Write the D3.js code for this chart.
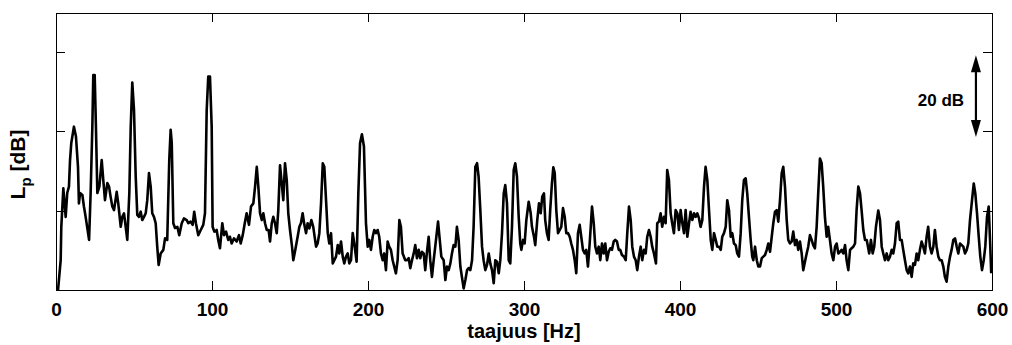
<!DOCTYPE html>
<html>
<head>
<meta charset="utf-8">
<script src="https://cdn.jsdelivr.net/npm/d3@7"></script>
<style>
  body { margin: 0; background: #fff; }
  svg { display: block; font-family: Arial, "Liberation Sans", sans-serif; }
</style>
</head>
<body>
<svg id="chart"></svg>
<script>
// spectrum: frequency [Hz] and level [dB, relative]
const freq = [
  1.3,3.0,3.4,4.7,6.2,7.2,8.3,9.0,9.8,11.5,
  12.8,14.1,14.7,15.4,16.9,17.9,19.0,21.2,22.2,23.3,
  23.9,24.8,25.6,26.5,27.8,29.3,30.3,31.4,32.9,34.0,
  35.0,36.1,37.2,38.9,39.9,41.5,42.5,43.6,44.4,45.7,
  47.0,47.9,48.9,50.0,51.1,52.1,53.2,54.3,55.3,56.4,
  57.5,58.5,59.6,60.7,61.7,62.8,63.9,64.9,65.8,67.1,
  68.8,69.9,71.3,72.6,73.5,74.2,75.2,76.3,77.8,79.0,
  80.6,82.0,83.8,84.8,86.3,87.6,88.6,89.7,91.2,92.8,
  94.4,95.5,96.6,97.6,98.7,99.8,100.4,101.5,103.0,104.0,
  105.1,106.6,107.7,109.0,110.4,111.5,112.6,114.1,115.8,117.3,
  118.4,119.7,121.0,122.2,123.7,125.0,126.5,127.6,128.7,129.7,
  130.8,131.9,132.9,134.0,135.1,136.3,137.2,138.3,139.3,140.4,
  141.5,142.5,143.6,144.7,145.7,146.8,147.9,148.9,150.0,151.3,
  152.1,153.4,154.9,156.0,157.0,158.1,159.2,160.3,161.3,162.4,
  163.7,164.9,166.7,167.7,168.8,169.9,171.0,172.0,173.1,174.2,
  175.2,176.3,177.4,178.4,179.5,180.6,181.6,182.7,183.8,184.8,
  185.9,187.0,188.0,189.1,190.2,191.2,192.7,193.8,194.9,196.1,
  197.4,198.7,199.8,200.8,201.9,203.0,204.0,205.1,206.2,207.2,
  208.3,209.4,210.4,211.5,212.6,213.6,214.7,215.8,216.8,217.9,
  219.0,220.1,221.1,222.2,223.9,225.0,226.1,227.1,228.2,229.3,
  230.3,231.4,232.5,233.5,234.6,235.7,236.7,237.8,238.9,239.9,
  241.0,242.1,243.1,244.9,246.0,247.0,248.5,249.6,250.6,251.7,
  252.8,253.8,254.9,256.0,257.0,258.1,259.2,260.2,261.3,262.4,
  263.5,264.5,265.6,266.7,267.7,268.8,269.9,270.9,272.0,273.1,
  274.1,275.2,276.3,277.4,278.4,279.5,280.6,281.6,282.7,283.8,
  284.8,285.9,287.0,288.0,289.1,290.2,291.2,292.3,293.4,294.4,
  295.5,296.6,297.6,298.3,299.4,300.4,301.5,303.0,304.3,305.1,
  306.4,307.2,308.5,309.6,310.7,311.7,312.8,313.6,314.7,315.8,
  316.8,317.9,318.8,319.7,320.7,321.8,322.9,323.9,325.0,326.1,
  327.1,328.2,329.3,330.3,331.4,332.5,333.5,334.6,335.7,336.7,
  337.8,338.9,339.9,341.0,342.1,343.6,344.7,345.7,346.8,347.9,
  348.9,350.0,351.1,352.1,353.2,354.3,355.3,356.4,357.5,358.5,
  359.6,360.7,361.7,362.8,364.1,365.2,366.2,367.3,368.4,369.4,
  370.5,371.6,372.6,373.7,374.8,375.8,376.9,378.0,379.0,380.1,
  381.2,382.2,383.3,384.6,385.4,386.5,387.6,388.6,389.7,390.8,
  391.8,392.9,394.0,395.0,396.1,397.2,398.3,399.3,400.4,401.5,
  402.6,403.6,404.7,405.8,406.8,407.9,409.0,410.0,411.1,412.2,
  413.2,414.3,415.4,416.4,417.5,418.6,419.7,420.7,421.8,422.9,
  423.9,425.0,426.1,427.1,428.2,429.3,430.3,431.4,432.5,433.5,
  434.6,435.7,436.7,437.8,438.9,439.9,441.0,442.1,443.1,444.2,
  445.3,446.3,447.0,448.1,449.2,450.2,451.3,452.4,453.4,454.5,
  455.6,456.6,457.7,458.8,459.8,460.9,462.0,463.0,464.1,465.2,
  466.2,467.3,468.4,469.4,470.5,471.6,472.6,473.7,474.8,475.8,
  476.9,478.0,479.0,480.1,481.2,482.2,483.3,484.4,485.4,486.5,
  487.6,488.6,489.7,490.8,491.8,492.9,494.0,495.0,496.1,497.2,
  498.3,499.4,500.4,501.5,502.6,503.6,504.7,505.8,506.8,507.9,
  509.0,510.0,511.1,512.2,513.2,514.3,515.4,516.4,517.5,518.6,
  519.7,521.3,522.4,523.5,524.5,525.6,527.1,528.2,529.3,530.3,
  531.4,532.5,533.5,534.6,535.7,536.7,537.8,538.9,539.9,541.0,
  542.1,543.1,544.2,545.3,546.3,547.4,548.5,549.5,550.6,551.7,
  552.7,553.8,554.9,555.9,557.0,558.1,559.1,560.2,561.3,562.4,
  563.4,564.5,565.6,566.6,567.7,568.8,569.8,570.9,572.0,573.1,
  574.1,575.2,576.3,577.4,578.4,579.5,580.6,581.6,582.7,583.8,
  584.8,585.9,587.2,588.3,589.3,590.4,591.5,592.5,593.6,594.7,
  595.7,596.8,597.9,598.9,599.5
];
const level = [
  0,7.5,15.9,25.6,18.4,24.4,26.0,32.7,37.0,41.1,
  38.6,31.0,21.8,24.4,23.9,21.0,18.4,12.6,24.4,41.1,
  54.1,54.1,41.1,24.4,26.0,32.7,27.7,22.6,26.9,26.0,
  23.5,21.0,20.1,24.7,21.8,15.9,18.4,19.3,16.8,12.6,
  24.4,41.1,52.2,45.3,28.5,18.9,18.4,19.7,17.6,18.4,
  19.3,22.6,29.4,26.0,19.3,18.4,16.8,10.9,6.3,9.2,
  10.1,13.0,12.6,32.7,40.3,37.0,16.8,15.6,15.9,13.8,
  16.8,18.0,17.6,16.8,17.2,16.4,19.7,16.8,13.8,15.1,
  16.4,19.3,45.3,53.7,53.7,41.1,15.9,14.7,15.1,12.6,
  10.5,16.8,13.8,14.7,12.6,13.4,11.7,13.0,12.2,13.8,
  11.7,13.8,16.8,19.3,16.4,21.0,21.8,26.0,31.0,26.0,
  19.3,17.6,19.3,16.8,15.1,15.1,12.2,16.8,18.4,16.8,
  14.3,20.1,31.4,26.8,22.6,31.9,27.7,19.3,15.1,10.9,
  7.5,10.1,13.4,15.9,16.8,19.3,16.4,14.3,16.8,15.5,
  17.6,15.9,10.9,11.7,14.3,21.8,31.9,31.0,22.6,14.3,
  11.7,14.3,6.7,7.5,8.4,11.3,9.2,12.2,8.4,6.7,
  8.4,9.2,6.7,7.5,14.3,11.7,7.1,24.3,36.9,39.2,
  36.1,16.8,10.9,12.6,10.1,13.4,15.1,14.3,15.1,13.4,
  9.2,7.5,9.2,5.0,12.2,10.9,10.1,7.5,5.9,4.2,
  7.5,17.6,15.9,9.2,7.5,7.5,8.0,5.5,7.5,9.2,
  11.3,8.0,10.1,8.0,9.6,9.2,5.0,9.6,13.4,7.5,
  3.3,7.5,10.9,17.2,12.6,8.4,7.5,2.5,5.9,5.0,
  6.7,9.2,11.3,10.9,15.9,12.6,5.9,3.3,0.4,2.5,
  5.0,5.5,5.0,7.5,15.9,31.0,31.9,28.5,20.1,10.9,
  7.5,5.0,6.3,9.2,6.7,5.0,1.7,7.5,7.1,4.2,
  7.5,14.3,24.3,26.4,21.8,7.5,6.7,15.9,30.2,31.9,
  28.5,18.4,11.7,10.1,12.6,11.7,17.6,22.2,19.3,15.9,
  13.4,11.3,17.6,21.8,19.3,23.5,24.3,17.6,14.3,12.6,
  20.1,26.8,30.9,29.4,20.1,14.3,15.1,15.9,20.6,18.4,
  14.3,14.3,13.4,11.7,10.1,7.5,4.2,14.3,16.4,13.4,
  10.1,9.2,10.1,5.9,11.7,21.0,16.8,10.9,9.2,10.9,
  7.5,11.7,9.2,11.7,7.5,9.6,10.5,10.1,12.2,12.6,
  12.2,10.1,10.1,8.8,8.4,7.5,14.3,21.0,17.6,10.9,
  8.4,7.5,5.0,8.4,10.9,7.5,10.1,9.2,13.4,15.1,
  13.4,10.9,9.2,6.7,16.8,17.2,19.3,15.9,18.4,16.8,
  30.2,27.7,19.3,16.8,14.3,20.1,19.3,15.1,20.1,16.8,
  14.3,20.1,13.4,16.8,19.7,17.6,19.3,18.4,19.3,18.0,
  15.9,17.6,26.0,31.0,27.7,20.1,12.6,10.1,14.3,12.6,
  10.9,10.9,10.1,13.4,14.3,15.9,22.6,20.1,13.4,14.3,
  11.7,11.3,9.2,8.4,14.3,22.6,27.7,28.1,24.3,18.4,
  12.6,8.4,7.5,10.9,7.5,5.9,5.9,8.0,8.4,8.8,
  10.1,11.7,9.6,13.4,16.8,19.7,20.1,17.2,22.6,29.4,
  31.0,26.0,17.6,12.6,11.7,12.2,14.7,11.3,12.6,10.1,
  12.2,9.2,5.0,7.1,9.2,10.9,13.8,12.6,11.3,10.5,
  15.9,24.3,33.1,31.9,26.0,18.4,13.4,15.9,12.6,9.2,
  7.5,10.9,11.7,9.2,9.6,10.1,9.2,11.3,7.5,5.0,
  10.1,10.5,10.9,11.7,20.1,26.0,24.3,20.1,15.1,12.6,
  12.6,9.2,12.6,9.2,10.9,15.9,20.0,17.6,10.9,9.2,
  7.5,9.2,7.5,8.4,10.1,9.2,11.7,16.8,17.2,12.6,
  12.6,10.1,7.5,5.0,4.2,5.9,3.3,6.7,6.3,9.2,
  7.5,10.1,12.2,10.9,9.2,13.4,15.9,10.9,9.2,10.9,
  15.1,10.9,8.4,7.5,7.5,5.9,3.3,2.1,5.9,8.4,
  10.1,12.6,13.0,10.9,9.2,11.7,11.3,10.9,9.2,10.1,
  11.7,17.6,22.6,26.8,24.3,19.3,13.4,8.4,5.0,7.5,
  10.9,18.4,21.0,10.9,4.2
];

const xTicks = [0, 100, 200, 300, 400, 500, 600];
const yTicks = [20, 40, 60];       // unlabelled, 20 dB apart
const scaleBar = { f: 589.7, from: 38.5, to: 59.1, label: '20 dB' };

const width = 1012;
const height = 345;
const margin = { top: 13, right: 20, bottom: 55, left: 56 };

const svg = d3.select('#chart')
  .attr('width', width)
  .attr('height', height);

svg.append('rect')
  .attr('width', width)
  .attr('height', height)
  .attr('fill', '#fff');

const x = d3.scaleLinear()
  .domain([0, 600])
  .range([margin.left, width - margin.right]);

const y = d3.scaleLinear()
  .domain([0, 69.7])
  .range([height - margin.bottom, margin.top]);

svg.append('clipPath')
  .attr('id', 'plot-clip')
  .append('rect')
  .attr('x', x(0))
  .attr('y', y(69.7))
  .attr('width', x(600) - x(0))
  .attr('height', y(0) - y(69.7));

// axes: ticks point inwards, like matlab
const tickLen = 9;

const bottomAxis = svg.append('g')
  .attr('transform', `translate(0,${y(0)})`)
  .call(d3.axisBottom(x).tickValues(xTicks).tickSize(-tickLen).tickPadding(13));

svg.append('g')
  .attr('transform', `translate(0,${y(69.7)})`)
  .call(d3.axisTop(x).tickValues(xTicks).tickSize(-tickLen).tickFormat(''));

svg.append('g')
  .attr('transform', `translate(${x(0)},0)`)
  .call(d3.axisLeft(y).tickValues(yTicks).tickSize(-tickLen).tickFormat(''));

svg.append('g')
  .attr('transform', `translate(${x(600)},0)`)
  .call(d3.axisRight(y).tickValues(yTicks).tickSize(-tickLen).tickFormat(''));

svg.selectAll('.domain').remove();
svg.selectAll('.tick line')
  .attr('stroke', '#000')
  .attr('shape-rendering', 'crispEdges');

bottomAxis.selectAll('text')
  .attr('font-size', '19px')
  .attr('font-weight', 'bold')
  .attr('fill', '#000');

// the line
const line = d3.line()
  .x((d, i) => x(freq[i]))
  .y(d => y(d));

svg.append('path')
  .datum(level)
  .attr('clip-path', 'url(#plot-clip)')
  .attr('fill', 'none')
  .attr('stroke', '#000')
  .attr('stroke-width', 2.6)
  .attr('stroke-linejoin', 'round')
  .attr('d', line);

// box
svg.append('rect')
  .attr('x', x(0))
  .attr('y', y(69.7))
  .attr('width', x(600) - x(0))
  .attr('height', y(0) - y(69.7))
  .attr('fill', 'none')
  .attr('stroke', '#000')
  .attr('stroke-width', 1)
  .attr('shape-rendering', 'crispEdges');

// 20 dB scale arrow
const headLen = 17;
const headHalf = 5;
const ax = x(scaleBar.f);
const yTop = y(scaleBar.to);
const yBot = y(scaleBar.from);

svg.append('line')
  .attr('x1', ax).attr('x2', ax)
  .attr('y1', yTop + headLen - 2).attr('y2', yBot - headLen + 2)
  .attr('stroke', '#000')
  .attr('stroke-width', 2.2);

svg.append('path')
  .attr('d', `M${ax},${yTop} L${ax - headHalf},${yTop + headLen} L${ax + headHalf},${yTop + headLen} Z`)
  .attr('fill', '#000');

svg.append('path')
  .attr('d', `M${ax},${yBot} L${ax - headHalf},${yBot - headLen} L${ax + headHalf},${yBot - headLen} Z`)
  .attr('fill', '#000');

svg.append('text')
  .attr('x', x(582.1))
  .attr('y', y(46.3))
  .attr('text-anchor', 'end')
  .attr('font-size', '17px')
  .attr('font-weight', 'bold')
  .text(scaleBar.label);

// axis labels
svg.append('text')
  .attr('x', (x(0) + x(600)) / 2)
  .attr('y', 338)
  .attr('text-anchor', 'middle')
  .attr('font-size', '20px')
  .attr('font-weight', 'bold')
  .text('taajuus [Hz]');

const yLabel = svg.append('text')
  .attr('transform', `translate(25,${(y(0) + y(69.7)) / 2 + 13}) rotate(-90)`)
  .attr('text-anchor', 'middle')
  .attr('font-size', '21px')
  .attr('font-weight', 'bold');

yLabel.append('tspan').text('L');
yLabel.append('tspan')
  .attr('font-size', '15px')
  .attr('dy', 6)
  .text('p');
yLabel.append('tspan')
  .attr('dy', -6)
  .text(' [dB]');
</script>
</body>
</html>
